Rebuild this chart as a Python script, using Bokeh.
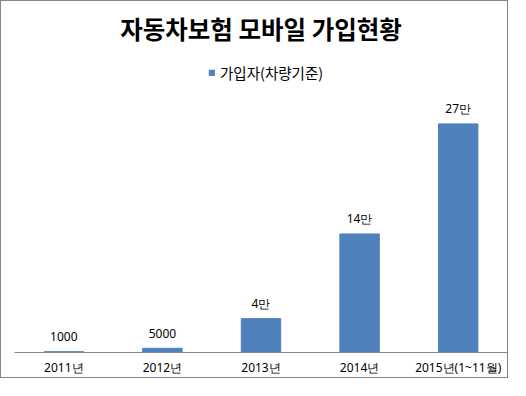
from bokeh.plotting import figure
from bokeh.models import ColumnDataSource, FactorRange, Range1d, LabelSet, Label
from bokeh.core.properties import value
from bokeh.embed import file_html
from bokeh.resources import INLINE

categories = ["2011년", "2012년", "2013년", "2014년", "2015년(1~11월)"]
subscribers = [1000, 5000, 40000, 140000, 270000]
value_labels = ["1000", "5000", "4만", "14만", "27만"]
title_text = "자동차보험 모바일 가입현황"
series_name = "가입자(차량기준)"

FONT = "Noto Sans CJK KR"
NUM_FONT = "Noto Sans"
BAR = "#4F81BD"
AXIS_MAX = 300000          # value axis maximum of the original chart
PLOT_AREA_PX = 254         # pixel height that AXIS_MAX spans
W, H = 508, 378            # + 1px CSS border on each side = 510 x 380
BOTTOM = 27
FRAME_H = H - BOTTOM
Y_END = AXIS_MAX * FRAME_H / PLOT_AREA_PX

src = ColumnDataSource(dict(cat=categories, val=subscribers, lab=value_labels))

p = figure(width=W, height=H,
           x_range=FactorRange(factors=categories, range_padding=0),
           y_range=Range1d(0, Y_END),
           output_backend="svg", toolbar_location=None,
           min_border_left=13, min_border_right=2,
           min_border_top=0, min_border_bottom=BOTTOM)
p.styles = {"border": "1px solid #868686"}

p.vbar(x="cat", top="val", width=0.4, source=src, fill_color=BAR,
       line_color=BAR, legend_label=series_name)

p.yaxis.visible = False
p.xgrid.grid_line_color = None
p.ygrid.grid_line_color = None
p.outline_line_color = None

ax = p.xaxis[0]
ax.axis_line_color = "#868686"
ax.axis_line_width = 1
ax.major_tick_line_color = None
ax.major_tick_out = 0
ax.major_tick_in = 0
ax.minor_tick_line_color = None
ax.major_label_text_font = NUM_FONT
ax.major_label_text_font_size = "12px"
ax.major_label_text_color = "#000000"
ax.major_label_standoff = 6

labels = LabelSet(x="cat", y="val", text="lab", source=src,
                  text_align="center", text_baseline="middle", y_offset=15,
                  text_font=value(NUM_FONT), text_font_size=value("12px"),
                  text_color="#000000")
p.add_layout(labels)

title = Label(x=2.5, y=Y_END, y_offset=-27, text=title_text,
              text_align="center", text_baseline="middle",
              text_font=FONT, text_font_size="24.5px", text_font_style="bold",
              text_color="#000000")
p.add_layout(title)

lg = p.legend[0]
lg.location = (194, 269)
lg.orientation = "horizontal"
lg.label_text_font = FONT
lg.label_text_font_size = "14.5px"
lg.label_text_color = "#000000"
lg.glyph_width = 7
lg.glyph_height = 7
lg.label_standoff = 5
lg.label_height = 16
lg.padding = 0
lg.margin = 0
lg.spacing = 0
lg.border_line_color = None
lg.background_fill_alpha = 0

open("out.html", "w").write(file_html(p, INLINE))
